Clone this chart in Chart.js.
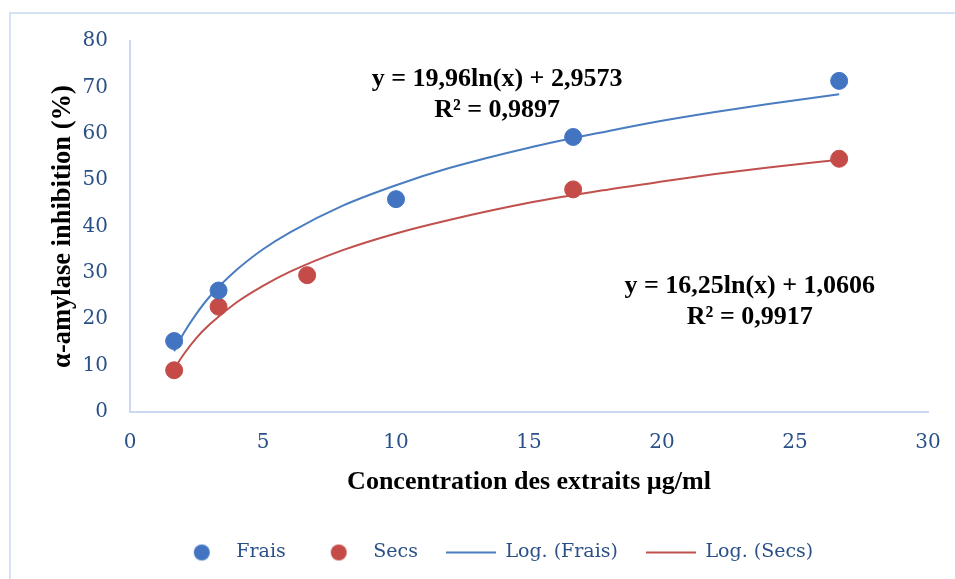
<!DOCTYPE html>
<html>
<head>
<meta charset="utf-8">
<script src="https://cdn.jsdelivr.net/npm/chart.js@4/dist/chart.umd.min.js"></script>
<style>
  html, body { margin: 0; padding: 0; background: #fff; }
  #wrap { width: 955px; height: 579px; position: relative; }
</style>
</head>
<body>
<div id="wrap"><canvas id="chart" width="955" height="579"></canvas></div>
<script>
// valeurs
const concFrais = [1.66, 3.33, 10, 16.66, 26.66];
const inhibFrais = [15.3, 26.2, 45.9, 59.3, 71.4];
const concSecs = [1.66, 3.33, 6.66, 16.66, 26.66];
const inhibSecs = [9.0, 22.7, 29.5, 48.0, 54.6];

// courbes de tendance logarithmiques
const trendX = [1.66, 2, 2.5, 3, 4, 5, 6, 8, 10, 12, 15, 18, 20, 22, 24, 26.66];
const trendFrais = [13.1, 16.8, 21.2, 24.9, 30.6, 35.1, 38.7, 44.5, 48.9, 52.6, 57.0, 60.6, 62.8, 64.7, 66.4, 68.5];
const trendSecs = [9.3, 12.3, 16.0, 18.9, 23.6, 27.2, 30.2, 34.9, 38.5, 41.4, 45.1, 48.0, 49.7, 51.3, 52.7, 54.4];

const xTicks = [0, 5, 10, 15, 20, 25, 30];
const yTicks = [0, 10, 20, 30, 40, 50, 60, 70, 80];

const blue = '#4274C1';
const red = '#C44B47';
const blueLine = '#4A7DC0';
const redLine = '#C0504D';
const tickColor = '#2A5187';
const axisColor = '#C9DAF2';

function pts(xs, ys) {
    return xs.map((x, i) => ({ x: x, y: ys[i] }));
}

// petits symboles pour la légende
function dotIcon(color) {
    const c = document.createElement('canvas');
    c.width = 18; c.height = 18;
    const g = c.getContext('2d');
    g.fillStyle = color;
    g.beginPath(); g.arc(9, 9, 8, 0, Math.PI * 2); g.fill();
    return c;
}
function lineIcon(color) {
    const c = document.createElement('canvas');
    c.width = 50; c.height = 4;
    const g = c.getContext('2d');
    g.strokeStyle = color; g.lineWidth = 2;
    g.beginPath(); g.moveTo(0, 2); g.lineTo(50, 2); g.stroke();
    return c;
}
const icons = [dotIcon(blue), dotIcon(red), lineIcon(blueLine), lineIcon(redLine)];

const equations = [
    { x: 13.8, y: 71.8, lines: ['y = 19,96ln(x) + 2,9573', 'R² = 0,9897'] },
    { x: 23.3, y: 27.2, lines: ['y = 16,25ln(x) + 1,0606', 'R² = 0,9917'] }
];

const extras = {
    id: 'extras',
    afterLayout(chart) {
        // légende un peu décalée vers la droite, comme dans Excel
        if (chart.legend) {
            chart.legend.left += 26;
            chart.legend.right += 26;
            if (chart.legend.legendHitBoxes) chart.legend.legendHitBoxes.forEach(h => { h.left += 26; });
        }
    },
    beforeDraw(chart) {
        const ctx = chart.ctx;
        ctx.save();
        ctx.strokeStyle = '#D5E2F4';
        ctx.lineWidth = 2;
        ctx.beginPath();
        ctx.moveTo(10, 579); ctx.lineTo(10, 13); ctx.lineTo(955, 13);
        ctx.stroke();
        ctx.restore();
    },
    afterDatasetsDraw(chart) {
        const ctx = chart.ctx;
        const sx = chart.scales.x, sy = chart.scales.y;
        ctx.save();
        ctx.font = 'bold 26px "Liberation Serif"';
        ctx.fillStyle = '#000';
        ctx.textAlign = 'center';
        ctx.textBaseline = 'middle';
        equations.forEach(eq => {
            const px = sx.getPixelForValue(eq.x);
            const py = sy.getPixelForValue(eq.y);
            eq.lines.forEach((t, i) => ctx.fillText(t, px, py + i * 31));
        });
        ctx.restore();
    }
};

new Chart(document.getElementById('chart'), {
    type: 'scatter',
    data: {
        datasets: [
            { label: 'Frais', data: pts(concFrais, inhibFrais), backgroundColor: blue, borderColor: blue,
              pointRadius: 8.5, pointHoverRadius: 8.5, order: 1 },
            { label: 'Secs', data: pts(concSecs, inhibSecs), backgroundColor: red, borderColor: red,
              pointRadius: 8.5, pointHoverRadius: 8.5, order: 1 },
            { label: 'Log. (Frais)', data: pts(trendX, trendFrais), showLine: true, borderColor: blueLine,
              borderWidth: 2, pointRadius: 0, cubicInterpolationMode: 'monotone', order: 2 },
            { label: 'Log. (Secs)', data: pts(trendX, trendSecs), showLine: true, borderColor: redLine,
              borderWidth: 2, pointRadius: 0, cubicInterpolationMode: 'monotone', order: 2 }
        ]
    },
    options: {
        responsive: false,
        animation: false,
        layout: { padding: { top: 41, left: 10, right: 27, bottom: 7 } },
        plugins: {
            tooltip: { enabled: false },
            legend: {
                position: 'bottom',
                labels: {
                    usePointStyle: true,
                    pointStyleWidth: 50,
                    padding: 28,
                    color: tickColor,
                    font: { family: '"DejaVu Serif"', size: 19 },
                    generateLabels(chart) {
                        return chart.data.datasets.map((ds, i) => ({
                            text: ds.label,
                            pointStyle: icons[i],
                            fillStyle: 'transparent',
                            strokeStyle: 'transparent',
                            lineWidth: 0,
                            fontColor: tickColor,
                            datasetIndex: i,
                            hidden: false
                        }));
                    }
                }
            }
        },
        scales: {
            x: {
                type: 'linear',
                min: 0, max: 30,
                afterFit(s) { s.height = 103; s.paddingRight = 0; s.paddingLeft = 0; },
                afterBuildTicks(s) { s.ticks = xTicks.map(v => ({ value: v })); },
                grid: { display: false, drawTicks: false },
                border: { display: true, color: axisColor, width: 2 },
                ticks: { color: tickColor, padding: 19, maxRotation: 0, font: { family: '"DejaVu Serif"', size: 20 } },
                title: {
                    display: true,
                    text: 'Concentration des extraits µg/ml',
                    color: '#000',
                    padding: { top: 0, bottom: 17 },
                    font: { family: '"Liberation Serif"', size: 26, weight: 'bold' }
                }
            },
            y: {
                type: 'linear',
                min: 0, max: 80,
                afterFit(s) { s.width = 120; },
                afterBuildTicks(s) { s.ticks = yTicks.map(v => ({ value: v })); },
                grid: { display: false, drawTicks: false },
                border: { display: true, color: axisColor, width: 2 },
                ticks: { color: tickColor, padding: 22, font: { family: '"DejaVu Serif"', size: 20 } },
                title: {
                    display: true,
                    text: 'α-amylase inhibition (%)',
                    color: '#000',
                    padding: { top: 37, bottom: 0 },
                    font: { family: '"Liberation Serif"', size: 26.5, weight: 'bold' }
                }
            }
        }
    },
    plugins: [extras]
});
</script>
</body>
</html>
